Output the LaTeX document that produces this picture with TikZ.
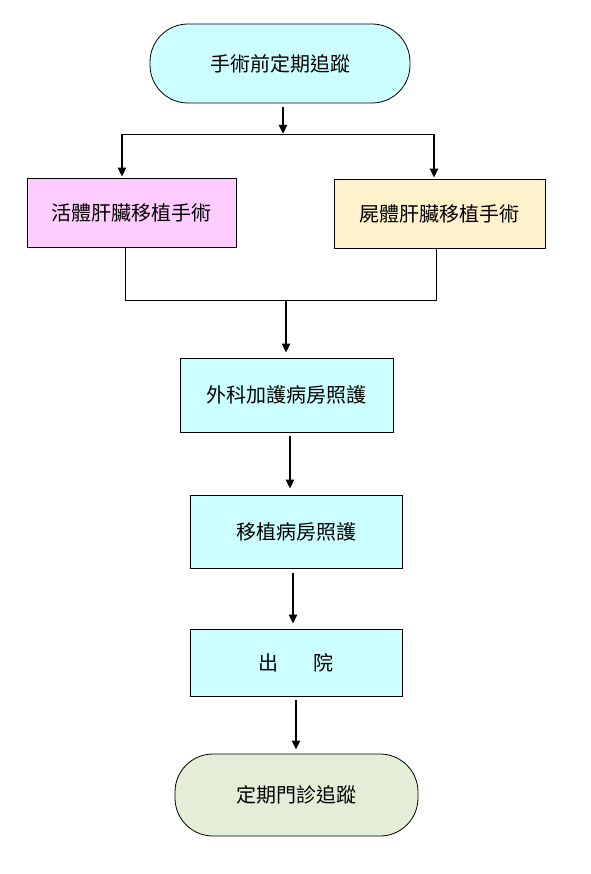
\documentclass[tikz,border=0pt]{standalone}
\usepackage{fontspec}
\setmainfont{Noto Sans CJK TC}
\usetikzlibrary{arrows.meta,positioning,calc}
\definecolor{cyanbox}{HTML}{CCFFFF}
\definecolor{pinkbox}{HTML}{FFCCFF}
\definecolor{creambox}{HTML}{FFF2CC}
\definecolor{greenbox}{HTML}{E3EDD8}
\tikzset{
  stepbox/.style={draw,line width=0.8pt,inner sep=0pt,font=\fontsize{20}{24}\selectfont},
  endbox/.style={stepbox,rounded corners=38pt},
  flow/.style={line width=2.4pt,-{Triangle[length=9pt,width=8pt]}},
  link/.style={line width=0.8pt}}
\begin{document}
\begin{tikzpicture}[x=1pt,y=1pt]
  \useasboundingbox[fill=white] (0,0) rectangle (590,-874);
  % nodes
  \node[endbox,fill=cyanbox,minimum width=260pt,minimum height=79pt] (pre) at (280,-63.5) {手術前定期追蹤};
  \node[stepbox,fill=pinkbox,minimum width=209pt,minimum height=69pt] (living) at (131.5,-212.5) {活體肝臟移植手術};
  \node[stepbox,fill=creambox,minimum width=211pt,minimum height=69pt] (cadaver) at (439.5,-213.5) {屍體肝臟移植手術};
  \node[stepbox,fill=cyanbox,minimum width=213pt,minimum height=74pt] (icu) at (286.5,-395) {外科加護病房照護};
  \node[stepbox,fill=cyanbox,minimum width=212pt,minimum height=73pt] (ward) at (296,-531.5) {移植病房照護};
  \node[stepbox,fill=cyanbox,minimum width=212pt,minimum height=67pt] (leave) at (296,-662.5) {出\hspace{1.75em}院};
  \node[endbox,fill=greenbox,minimum width=243pt,minimum height=82pt] (clinic) at (296.5,-795) {定期門診追蹤};
  % split
  \coordinate (split) at (283,-134);
  \coordinate (splitL) at (122,-134);
  \coordinate (splitR) at (434,-134);
  \draw[flow,shorten <=4pt] (split |- pre.south) -- (split);
  \draw[link] (splitL) -- (splitR);
  \draw[flow,shorten >=1pt] (splitL) -- (splitL |- living.north);
  \draw[flow,shorten >=1pt] (splitR) -- (splitR |- cadaver.north);
  % join
  \coordinate (joinL) at (125,-300);
  \coordinate (joinR) at (436,-300);
  \coordinate (join) at (286,-300);
  \draw[link] (joinL |- living.south) -- (joinL) -- (joinR) -- (joinR |- cadaver.south);
  \draw[flow,shorten >=5pt] (join) -- (join |- icu.north);
  % chain
  \coordinate (a1) at ([xshift=3.5pt]icu.south);
  \coordinate (a2) at ([xshift=-3pt]ward.south);
  \coordinate (a3) at (leave.south);
  \draw[flow,shorten <=4pt,shorten >=6pt] (a1) -- (a1 |- ward.north);
  \draw[flow,shorten <=5pt,shorten >=5pt] (a2) -- (a2 |- leave.north);
  \draw[flow,shorten <=4pt,shorten >=4pt] (a3) -- (a3 |- clinic.north);
\end{tikzpicture}
\end{document}
